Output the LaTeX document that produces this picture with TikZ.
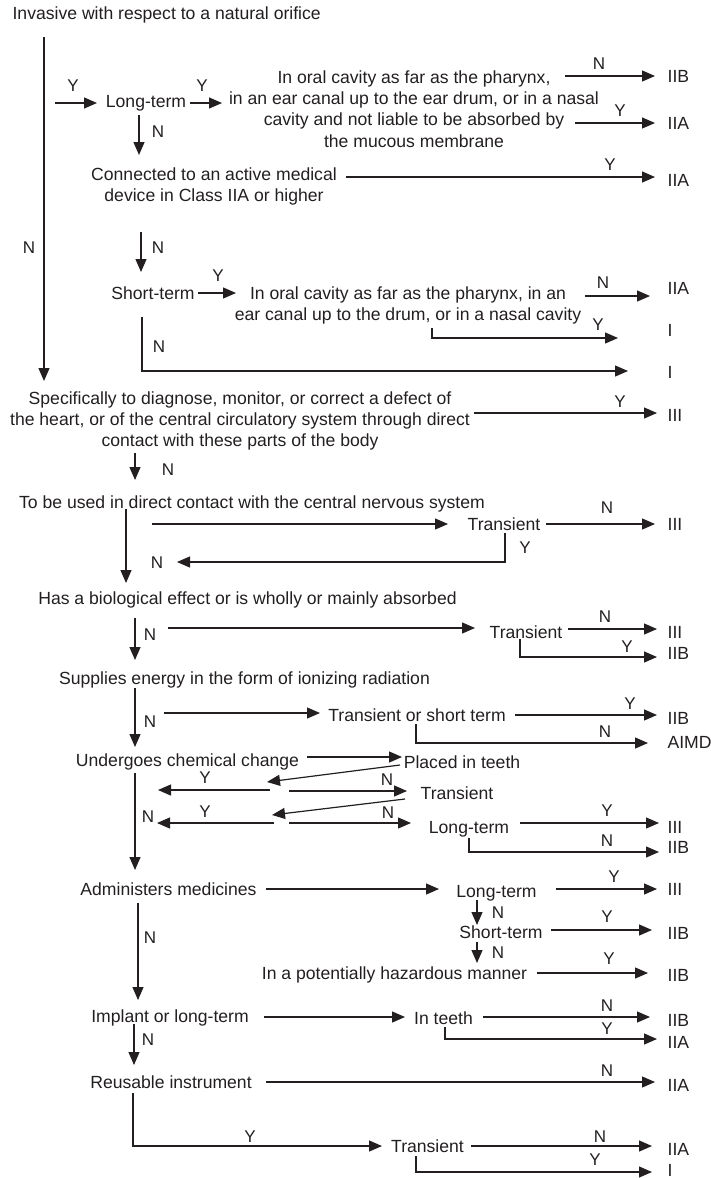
\documentclass[tikz,border=0pt]{standalone}
\usepackage{fontspec}
\setmainfont{Liberation Sans}
\usetikzlibrary{arrows.meta}
\definecolor{ink}{HTML}{231F20}
\begin{document}
\begin{tikzpicture}[x=1pt,y=-1pt,line width=1.2pt,color=ink,
  every node/.style={inner sep=0pt,text=ink},
  tx/.style={anchor=base,font=\fontsize{17.6}{21.3}\selectfont},
  blk/.style={anchor=north,align=center,font=\fontsize{17.6}{21.3}\selectfont},
  res/.style={anchor=base west,font=\fontsize{17.6}{21.3}\selectfont},
  yn/.style={font=\fontsize{17}{18}\selectfont},
  arr/.style={-{Triangle[length=13pt,width=11pt]}}]
\useasboundingbox (0,0) rectangle (710,1178);

% ---------- questions ----------
\node[tx,anchor=base west] (q0) at (12,19) {Invasive with respect to a natural orifice};
\node[tx] (q1) at (146,107) {Long-term};
\node[blk] (q2) at (414,70) {In oral cavity as far as the pharynx,\\ in an ear canal up to the ear drum, or in a nasal\\ cavity and not liable to be absorbed by\\ the mucous membrane};
\node[blk] (q3) at (214,167) {Connected to an active medical\\ device in Class IIA or higher};
\node[tx] (q4) at (153,299) {Short-term};
\node[blk] (q5) at (408,286) {In oral cavity as far as the pharynx, in an\\ ear canal up to the drum, or in a nasal cavity};
\node[blk] (q6) at (240,391) {Specifically to diagnose, monitor, or correct a defect of\\ the heart, or of the central circulatory system through direct\\ contact with these parts of the body};
\node[tx] (q7) at (252,508) {To be used in direct contact with the central nervous system};
\node[tx] (q8) at (504,530) {Transient};
\node[tx] (q9) at (247.5,604) {Has a biological effect or is wholly or mainly absorbed};
\node[tx] (q10) at (526,638) {Transient};
\node[tx] (q11) at (244.5,684) {Supplies energy in the form of ionizing radiation};
\node[tx] (q12) at (417,721) {Transient or short term};
\node[tx] (q13) at (187.5,766) {Undergoes chemical change};
\node[tx] (q14) at (462,768) {Placed in teeth};
\node[tx] (q15) at (457,799) {Transient};
\node[tx] (q16) at (469,833) {Long-term};
\node[tx] (q17) at (168.5,895) {Administers medicines};
\node[tx] (q18) at (496.5,897) {Long-term};
\node[tx] (q19) at (501,938) {Short-term};
\node[tx] (q20) at (394.5,979) {In a potentially hazardous manner};
\node[tx] (q21) at (170,1022) {Implant or long-term};
\node[tx] (q22) at (443.5,1024) {In teeth};
\node[tx] (q23) at (171,1088) {Reusable instrument};
\node[tx] (q24) at (427.5,1152) {Transient};

% ---------- classes ----------
\node[res] (r1) at (667,82) {IIB};
\node[res] (r2) at (667,129) {IIA};
\node[res] (r3) at (667,186) {IIA};
\node[res] (r4) at (667,294) {IIA};
\node[res] (r5) at (667,336) {I};
\node[res] (r6) at (667,378) {I};
\node[res] (r7) at (667,421) {III};
\node[res] (r8) at (667,530) {III};
\node[res] (r9) at (667,638) {III};
\node[res] (r10) at (667,659) {IIB};
\node[res] (r11) at (667,724) {IIB};
\node[res] (r12) at (667,748) {AIMD};
\node[res] (r13) at (667,833) {III};
\node[res] (r14) at (667,853) {IIB};
\node[res] (r15) at (667,895) {III};
\node[res] (r16) at (667,939) {IIB};
\node[res] (r17) at (667,981) {IIB};
\node[res] (r18) at (667,1026) {IIB};
\node[res] (r19) at (667,1048) {IIA};
\node[res] (r20) at (667,1091) {IIA};
\node[res] (r21) at (667,1155) {IIA};
\node[res] (r22) at (667,1176) {I};

% ---------- connector end points ----------
\coordinate (m0) at (44,37);    \coordinate (m1) at (44,381);
\coordinate (c1a) at (55,103);  \coordinate (c1b) at (97,103);
\coordinate (c2a) at (190,103); \coordinate (c2b) at (222,103);
\coordinate (c3a) at (565,76);  \coordinate (c3b) at (655,76);
\coordinate (c4a) at (575,123); \coordinate (c4b) at (655,123);
\coordinate (c5a) at (139,115); \coordinate (c5b) at (139,155);
\coordinate (c6a) at (346,177); \coordinate (c6b) at (655,177);
\coordinate (c7a) at (141,232); \coordinate (c7b) at (141,272);
\coordinate (c8a) at (198,293); \coordinate (c8b) at (236,293);
\coordinate (c9a) at (585,296); \coordinate (c9b) at (650,296);
\coordinate (c10a) at (432,328); \coordinate (c10m) at (432,338); \coordinate (c10b) at (618,338);
\coordinate (c11a) at (142,317); \coordinate (c11m) at (142,371); \coordinate (c11b) at (628,371);
\coordinate (c12a) at (474,413); \coordinate (c12b) at (657,413);
\coordinate (c13a) at (135,453); \coordinate (c13b) at (135,480);
\coordinate (c14a) at (126,509); \coordinate (c14b) at (126,583);
\coordinate (c15a) at (152,524); \coordinate (c15b) at (448,524);
\coordinate (c16a) at (546,524); \coordinate (c16b) at (655,524);
\coordinate (c17a) at (505,533); \coordinate (c17m) at (505,562); \coordinate (c17b) at (177,562);
\coordinate (c18a) at (135,618); \coordinate (c18b) at (135,660);
\coordinate (c19a) at (168,628); \coordinate (c19b) at (475,628);
\coordinate (c20a) at (568,629); \coordinate (c20b) at (657,629);
\coordinate (c21a) at (520,639); \coordinate (c21m) at (520,657); \coordinate (c21b) at (657,657);
\coordinate (c22a) at (135,688); \coordinate (c22b) at (135,747);
\coordinate (c23a) at (164,713); \coordinate (c23b) at (320,713);
\coordinate (c24a) at (515,715); \coordinate (c24b) at (657,715);
\coordinate (c25a) at (416,724); \coordinate (c25m) at (416,743); \coordinate (c25b) at (648,743);
\coordinate (c26a) at (307,757); \coordinate (c26b) at (402,757);
\coordinate (c27a) at (400,765); \coordinate (c27b) at (267,782);
\coordinate (c28a) at (270,790); \coordinate (c28b) at (158,790);
\coordinate (c29a) at (289,791); \coordinate (c29b) at (407,791);
\coordinate (c30a) at (405,799); \coordinate (c30b) at (272,815);
\coordinate (c31a) at (274,823); \coordinate (c31b) at (157,823);
\coordinate (c32a) at (289,823); \coordinate (c32b) at (411,823);
\coordinate (c33a) at (520,823); \coordinate (c33b) at (659,823);
\coordinate (c34a) at (469,838); \coordinate (c34m) at (469,852); \coordinate (c34b) at (659,852);
\coordinate (c35a) at (135,773); \coordinate (c35b) at (135,870);
\coordinate (c36a) at (266,889); \coordinate (c36b) at (439,889);
\coordinate (c37a) at (556,889); \coordinate (c37b) at (657,889);
\coordinate (c38a) at (477,900); \coordinate (c38b) at (477,925);
\coordinate (c39a) at (551,930); \coordinate (c39b) at (652,930);
\coordinate (c40a) at (477,942); \coordinate (c40b) at (477,963);
\coordinate (c41a) at (537,973); \coordinate (c41b) at (648,973);
\coordinate (c42a) at (138,903); \coordinate (c42b) at (138,1000);
\coordinate (c43a) at (264,1017); \coordinate (c43b) at (405,1017);
\coordinate (c44a) at (483,1017); \coordinate (c44b) at (650,1017);
\coordinate (c45a) at (445,1027); \coordinate (c45m) at (445,1039); \coordinate (c45b) at (657,1039);
\coordinate (c46a) at (134,1024); \coordinate (c46b) at (134,1065);
\coordinate (c47a) at (266,1082); \coordinate (c47b) at (655,1082);
\coordinate (c48a) at (133,1093); \coordinate (c48m) at (133,1146); \coordinate (c48b) at (382,1146);
\coordinate (c49a) at (471,1146); \coordinate (c49b) at (652,1146);
\coordinate (c50a) at (416,1156); \coordinate (c50m) at (416,1172); \coordinate (c50b) at (652,1172);

% ---------- connectors ----------
\draw[arr] (m0) -- (m1);
\foreach \k in {1,...,9,12,13,14,15,16,18,19,20,22,23,24,26,27,28,29,30,31,32,33,35,36,37,38,39,40,41,42,43,44,46,47,49}
  \draw[arr] (c\k a) -- (c\k b);
\foreach \k in {10,11,17,21,25,34,45,48,50}
  \draw[arr] (c\k a) -- (c\k m) -- (c\k b);

% ---------- Y / N labels ----------
\node[yn] (n0) at (29,248) {N};
\node[yn] (n1) at (73,86) {Y};
\node[yn] (n2) at (202,86) {Y};
\node[yn] (n3) at (599,64) {N};
\node[yn] (n4) at (620,111) {Y};
\node[yn] (n5) at (158,132) {N};
\node[yn] (n6) at (610,165) {Y};
\node[yn] (n7) at (158,248) {N};
\node[yn] (n8) at (218,276) {Y};
\node[yn] (n9) at (603,283) {N};
\node[yn] (n10) at (598,325) {Y};
\node[yn] (n11) at (159,347) {N};
\node[yn] (n12) at (620,402) {Y};
\node[yn] (n13) at (168,470) {N};
\node[yn] (n14) at (607,508) {N};
\node[yn] (n15) at (525,548) {Y};
\node[yn] (n16) at (157,563) {N};
\node[yn] (n17) at (150,635) {N};
\node[yn] (n18) at (605,617) {N};
\node[yn] (n19) at (627,647) {Y};
\node[yn] (n20) at (150,722) {N};
\node[yn] (n21) at (630,704) {Y};
\node[yn] (n22) at (605,732) {N};
\node[yn] (n23) at (205,778) {Y};
\node[yn] (n24) at (387,780) {N};
\node[yn] (n25) at (205,812) {Y};
\node[yn] (n26) at (148,817) {N};
\node[yn] (n27) at (388,813) {N};
\node[yn] (n28) at (607,811) {Y};
\node[yn] (n29) at (607,841) {N};
\node[yn] (n30) at (614,877) {Y};
\node[yn] (n31) at (498,913) {N};
\node[yn] (n32) at (607,917) {Y};
\node[yn] (n33) at (498,953) {N};
\node[yn] (n34) at (609,959) {Y};
\node[yn] (n35) at (150,938) {N};
\node[yn] (n36) at (607,1006) {N};
\node[yn] (n37) at (607,1029) {Y};
\node[yn] (n38) at (148,1040) {N};
\node[yn] (n39) at (607,1071) {N};
\node[yn] (n40) at (250,1137) {Y};
\node[yn] (n41) at (600,1137) {N};
\node[yn] (n42) at (595,1160) {Y};
\end{tikzpicture}
\end{document}
